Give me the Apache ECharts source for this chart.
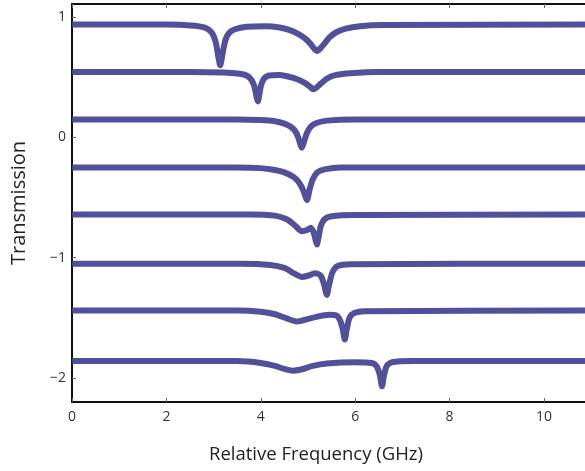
<!DOCTYPE html>
<html><head><meta charset="utf-8">
<script src="https://cdn.jsdelivr.net/npm/echarts@6/dist/echarts.min.js"></script>
<style>html,body{margin:0;padding:0;background:#fff}#c{width:585px;height:471px}</style>
</head><body><div id="c"></div>
<script>
var xTicks = [0, 2, 4, 6, 8, 10];
var yTicks = [-2, -1, 0, 1];
var trace1 = [[0,0.94],[2.0,0.94],[2.6,0.93],[2.8,0.915],[2.9,0.895],[2.98,0.86],[3.04,0.80],[3.08,0.72],[3.11,0.65],[3.14,0.60],[3.17,0.65],[3.21,0.74],[3.26,0.82],[3.33,0.87],[3.45,0.90],[3.7,0.92],[4.1,0.925],[4.4,0.915],[4.6,0.895],[4.8,0.86],[4.95,0.82],[5.05,0.78],[5.12,0.745],[5.19,0.72],[5.26,0.74],[5.35,0.78],[5.45,0.83],[5.6,0.875],[5.8,0.905],[6.1,0.925],[6.6,0.935],[11,0.94]];
var trace2 = [[0,0.545],[2.5,0.545],[3.2,0.54],[3.55,0.53],[3.7,0.515],[3.8,0.48],[3.86,0.43],[3.9,0.36],[3.94,0.30],[3.97,0.36],[4.01,0.44],[4.07,0.49],[4.17,0.515],[4.4,0.52],[4.6,0.505],[4.8,0.48],[4.95,0.45],[5.05,0.42],[5.11,0.40],[5.18,0.415],[5.28,0.45],[5.4,0.49],[5.6,0.52],[5.9,0.535],[6.5,0.545],[11,0.545]];
var trace3 = [[0,0.15],[3.5,0.15],[4.0,0.145],[4.3,0.135],[4.5,0.115],[4.65,0.085],[4.75,0.04],[4.81,-0.02],[4.87,-0.085],[4.92,-0.03],[4.98,0.04],[5.06,0.09],[5.18,0.12],[5.4,0.14],[6,0.15],[11,0.15]];
var trace4 = [[0,-0.25],[3.5,-0.25],[4.0,-0.255],[4.3,-0.27],[4.5,-0.29],[4.7,-0.33],[4.82,-0.38],[4.9,-0.44],[4.98,-0.52],[5.03,-0.44],[5.1,-0.35],[5.2,-0.29],[5.35,-0.265],[5.7,-0.25],[11,-0.25]];
var trace5 = [[0,-0.64],[3.8,-0.64],[4.3,-0.65],[4.55,-0.68],[4.72,-0.73],[4.87,-0.78],[4.98,-0.77],[5.06,-0.75],[5.12,-0.79],[5.16,-0.85],[5.19,-0.89],[5.22,-0.84],[5.27,-0.74],[5.35,-0.68],[5.5,-0.655],[6,-0.645],[11,-0.64]];
var trace6 = [[0,-1.05],[3.6,-1.05],[4.2,-1.06],[4.5,-1.085],[4.7,-1.13],[4.87,-1.16],[5.0,-1.15],[5.15,-1.13],[5.27,-1.15],[5.34,-1.22],[5.40,-1.31],[5.45,-1.22],[5.52,-1.12],[5.62,-1.07],[5.9,-1.055],[11,-1.05]];
var trace7 = [[0,-1.44],[3.5,-1.44],[4.0,-1.45],[4.3,-1.47],[4.55,-1.505],[4.77,-1.53],[4.95,-1.515],[5.2,-1.49],[5.45,-1.475],[5.6,-1.48],[5.68,-1.52],[5.74,-1.60],[5.78,-1.68],[5.82,-1.6],[5.88,-1.5],[5.98,-1.46],[6.2,-1.445],[11,-1.44]];
var trace8 = [[0,-1.86],[3.5,-1.86],[4.0,-1.875],[4.3,-1.9],[4.5,-1.925],[4.68,-1.94],[4.85,-1.93],[5.1,-1.9],[5.4,-1.88],[6.0,-1.87],[6.35,-1.875],[6.45,-1.9],[6.52,-1.97],[6.57,-2.07],[6.61,-1.98],[6.67,-1.9],[6.78,-1.87],[7.2,-1.86],[11,-1.86]];
var traces = [trace1, trace2, trace3, trace4, trace5, trace6, trace7, trace8];

var chart = echarts.init(document.getElementById('c'), null, {renderer: 'canvas'});
var font = '"Open Sans", "DejaVu Sans", sans-serif';
function fmt(v){ return v < 0 ? '\u2212' + Math.abs(v) : String(v); }
var lineSt = {show: true, onZero: false, lineStyle: {color: '#111', width: 2}};
var tickSt = {show: true, inside: true, length: 4, lineStyle: {color: '#666', width: 1}};
var option = {
  animation: false,
  backgroundColor: '#fff',
  title: {
    text: 'Relative Frequency (GHz)', left: 204, top: 440,
    textStyle: {fontFamily: font, fontSize: 18.5, fontWeight: 'normal', color: '#222'}
  },
  grid: {left: 72, top: 4, bottom: 69, right: 0, containLabel: false},
  xAxis: [{
    type: 'value', min: 0, max: 10.87, position: 'bottom',
    axisLine: lineSt, splitLine: {show: false},
    axisTick: Object.assign({customValues: xTicks}, tickSt),
    axisLabel: {show: true, fontFamily: font, fontSize: 14, color: '#333', margin: 8, customValues: xTicks, formatter: fmt}
  }, {
    type: 'value', min: 0, max: 10.87, position: 'top',
    axisLine: lineSt, splitLine: {show: false},
    axisTick: Object.assign({customValues: xTicks}, tickSt),
    axisLabel: {show: false}
  }],
  yAxis: [{
    type: 'value', min: -2.2, max: 1.11, position: 'left',
    name: 'Transmission', nameLocation: 'middle', nameGap: 43,
    nameTextStyle: {fontFamily: font, fontSize: 20, color: '#222'},
    axisLine: lineSt, splitLine: {show: false},
    axisTick: Object.assign({customValues: yTicks}, tickSt),
    axisLabel: {show: true, fontFamily: font, fontSize: 14, color: '#333', margin: 6, customValues: yTicks, formatter: fmt}
  }],
  series: traces.map(function(t){
    return {
      type: 'line', data: t, showSymbol: false, smooth: 0.25,
      xAxisIndex: 0, yAxisIndex: 0, clip: true,
      lineStyle: {color: '#3d3d90', width: 6, opacity: 0.9}
    };
  })
};
chart.setOption(option);
</script></body></html>
